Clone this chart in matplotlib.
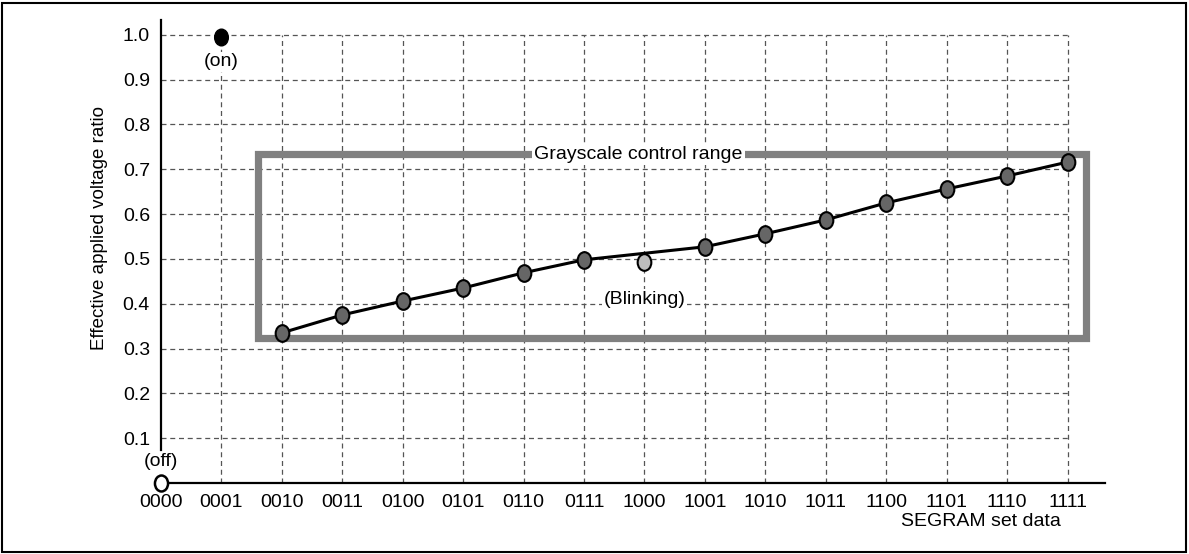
import numpy as np
import matplotlib.pyplot as plt
from matplotlib.patches import Rectangle
from matplotlib.path import Path

plt.rcParams['font.family'] = ['Liberation Sans', 'DejaVu Sans']

codes = ['0000', '0001', '0010', '0011', '0100', '0101', '0110', '0111',
         '1000', '1001', '1010', '1011', '1100', '1101', '1110', '1111']
# grayscale points (code index, ratio); 1000 is blinking, not on the line
gray_x = [2, 3, 4, 5, 6, 7, 9, 10, 11, 12, 13, 14, 15]
gray_y = [0.335, 0.375, 0.406, 0.435, 0.469, 0.498, 0.527, 0.556,
          0.587, 0.625, 0.656, 0.685, 0.716]
blink_x, blink_y = 8, 0.493
on_x, on_y = 1, 0.996
off_x, off_y = 0, 0.0
yticks = [0.1, 0.2, 0.3, 0.4, 0.5, 0.6, 0.7, 0.8, 0.9, 1.0]

# slightly tall ellipse marker
circ = Path.unit_circle()
ell = Path(circ.vertices * [0.82, 1.0], circ.codes)

fig = plt.figure(figsize=(11.89, 5.54), dpi=100)
ax = fig.add_axes([161/1189, 1 - 483/554, (1105-161)/1189, (483-20)/554])
ax.set_xlim(0, 15.62)
ax.set_ylim(0, 1.033)

# grid, limited to the data area
gx = np.arange(1, len(codes))
ax.hlines(yticks, 0, len(codes) - 1, colors='#555555', linestyles=(0, (4, 3)),
          linewidth=0.9, zorder=1)
ax.vlines(gx, 0, 1.0, colors='#555555', linestyles=(0, (4, 3)),
          linewidth=0.9, zorder=1)

# grayscale control range box
rx0, rx1, ry0, ry1 = 1.605, 15.31, 0.324, 0.734
ax.add_patch(Rectangle((rx0, ry0), rx1 - rx0, ry1 - ry0, fill=False,
                       edgecolor='#808080', linewidth=5.2, joinstyle='miter',
                       zorder=2))
ax.text(7.9, ry1, 'Grayscale control range', ha='center', va='center',
        fontsize=14, zorder=4,
        bbox=dict(facecolor='white', edgecolor='none', pad=2))

ax.plot(gray_x, gray_y, color='black', linewidth=2.2, zorder=5)
ax.plot(gray_x, gray_y, linestyle='none', marker=ell, markersize=12,
        markerfacecolor='#666666', markeredgecolor='black',
        markeredgewidth=1.5, zorder=6)
ax.plot([blink_x], [blink_y], linestyle='none', marker=ell, markersize=12,
        markerfacecolor='#bdbdbd', markeredgecolor='black',
        markeredgewidth=1.5, zorder=6)
ax.plot([on_x], [on_y], linestyle='none', marker=ell, markersize=12,
        markerfacecolor='black', markeredgecolor='black', zorder=6)
ax.plot([off_x], [off_y], linestyle='none', marker=ell, markersize=11.5,
        markerfacecolor='white', markeredgecolor='black',
        markeredgewidth=1.8, zorder=7, clip_on=False)

ax.text(on_x, 0.94, '(on)', ha='center', va='center', fontsize=14, zorder=4,
        bbox=dict(facecolor='white', edgecolor='none', pad=1))
ax.text(off_x, 0.047, '(off)', ha='center', va='center', fontsize=14, zorder=4)
ax.text(blink_x, 0.41, '(Blinking)', ha='center', va='center', fontsize=14,
        zorder=4, bbox=dict(facecolor='white', edgecolor='none', pad=1))

ax.set_xticks(range(len(codes)))
ax.set_xticklabels(codes)
ax.set_yticks(yticks)
ax.set_yticklabels([f'{v:.1f}' for v in yticks])
ax.tick_params(length=0, labelsize=14)
ax.tick_params(axis='x', pad=8)
ax.tick_params(axis='y', pad=8)

for s in ['top', 'right']:
    ax.spines[s].set_visible(False)
ax.spines['left'].set_bounds(0.074, 1.033)
for s in ['left', 'bottom']:
    ax.spines[s].set_linewidth(1.6)
    ax.spines[s].set_zorder(3)

fig.text(100/1189, 1 - 228/554, 'Effective applied voltage ratio',
         rotation=90, ha='center', va='center', fontsize=13.5)
fig.text(981/1189, 1 - 521/554, 'SEGRAM set data', ha='center', va='center',
         fontsize=14)

fig.patches.append(Rectangle((2/1189, 2/554), 1184/1189, 549/554,
                             transform=fig.transFigure, fill=False,
                             edgecolor='black', linewidth=1.5))

fig.savefig('out.png', dpi=100)
